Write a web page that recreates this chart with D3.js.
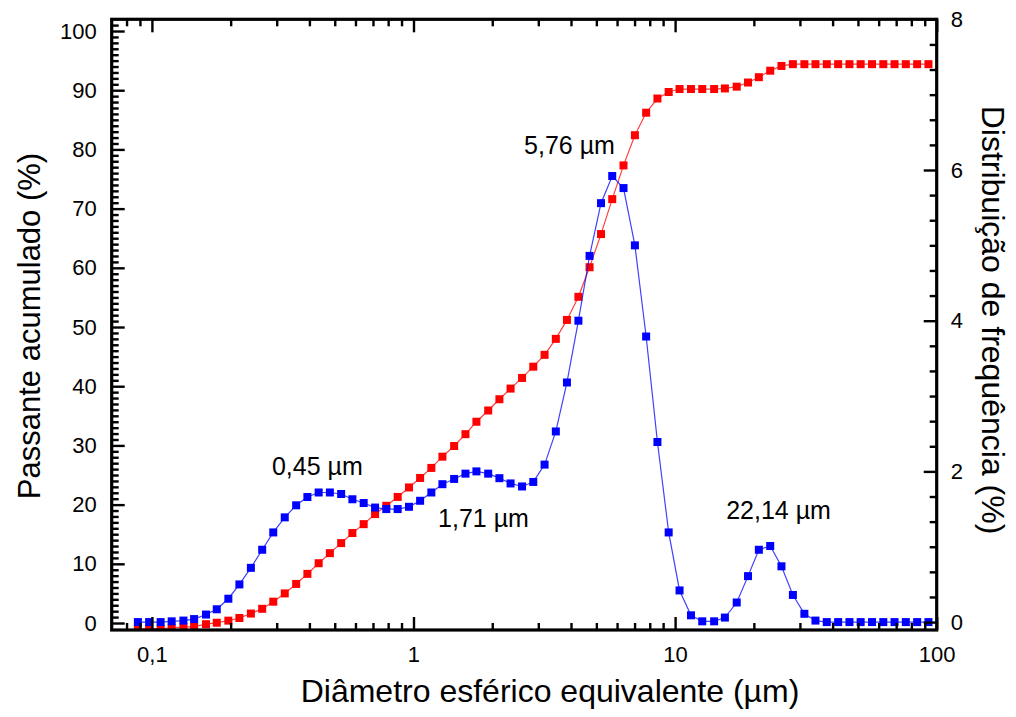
<!DOCTYPE html>
<html>
<head>
<meta charset="utf-8">
<script src="https://cdn.jsdelivr.net/npm/d3@7"></script>
<style>
  body { margin: 0; background: #fff; }
  svg { display: block; font-family: "Liberation Sans", Arial, sans-serif; }
</style>
</head>
<body>
<div id="chart"></div>
<script>
// Particle sizes (um), log spaced bins
const diameters = [
  0.0884, 0.0976, 0.108, 0.119, 0.132, 0.145, 0.161, 0.177, 0.196, 0.216,
  0.239, 0.264, 0.291, 0.322, 0.356, 0.393, 0.434, 0.479, 0.529, 0.584,
  0.645, 0.713, 0.787, 0.870, 0.961, 1.06, 1.17, 1.29, 1.43, 1.58,
  1.74, 1.93, 2.13, 2.35, 2.60, 2.87, 3.17, 3.50, 3.86, 4.27,
  4.71, 5.21, 5.75, 6.35, 7.02, 7.75, 8.56, 9.45, 10.4, 11.5,
  12.7, 14.1, 15.5, 17.2, 19.0, 20.9, 23.1, 25.5, 28.2, 31.2,
  34.4, 38.0, 42.0, 46.4, 51.2, 56.6, 62.5, 69.0, 76.2, 84.2, 93.0
];

// Passante acumulado (%) - left axis, red
const passante = [
  -1.0, -1.0, -1.0, -0.8, -0.7, -0.6, -0.2, 0.05, 0.4, 0.85,
  1.6, 2.4, 3.6, 5.0, 6.6, 8.3, 10.1, 11.8, 13.5, 15.2,
  16.7, 18.4, 19.8, 21.3, 22.9, 24.5, 26.2, 28.1, 29.9, 31.9,
  34.0, 35.9, 37.8, 39.6, 41.4, 43.3, 45.3, 48.0, 51.2, 55.1,
  60.1, 65.7, 71.6, 77.3, 82.4, 86.2, 88.6, 89.7, 90.2, 90.2,
  90.2, 90.2, 90.3, 90.6, 91.3, 92.2, 93.3, 94.1, 94.4, 94.4,
  94.4, 94.4, 94.4, 94.4, 94.4, 94.4, 94.4, 94.4, 94.4, 94.4, 94.4
];

// Distribuicao de frequencia (%) - right axis, blue
const frequencia = [
  0, 0, 0, 0.01, 0.02, 0.04, 0.10, 0.17, 0.31, 0.50,
  0.72, 0.96, 1.19, 1.39, 1.55, 1.66, 1.72, 1.72, 1.70, 1.63,
  1.58, 1.52, 1.50, 1.50, 1.53, 1.61, 1.72, 1.83, 1.90, 1.97,
  2.00, 1.97, 1.91, 1.84, 1.80, 1.86, 2.09, 2.53, 3.18, 4.00,
  4.86, 5.56, 5.92, 5.76, 5.00, 3.79, 2.39, 1.19, 0.42, 0.09,
  0.01, 0.01, 0.06, 0.26, 0.61, 0.96, 1.01, 0.74, 0.36, 0.11,
  0.02, 0, 0, 0, 0, 0, 0, 0, 0, 0, 0
];

// Tick values and labels
const xTickValues = [0.1, 1, 10, 100];
const xTickLabels = ["0,1", "1", "10", "100"];
const leftTickValues = [0, 10, 20, 30, 40, 50, 60, 70, 80, 90, 100];
const rightTickValues = [0, 2, 4, 6, 8];

// Peak annotations (x in um, y in frequency %)
const peakLabels = ["0,45 \u00b5m", "1,71 \u00b5m", "5,76 \u00b5m", "22,14 \u00b5m"];
const peakX = [0.429, 1.852, 3.948, 24.86];
const peakY = [1.95, 1.26, 6.21, 1.364];

const W = 1016, H = 717;
const plot = { left: 111.7, right: 936.7, top: 19.3, bottom: 630 };

const svg = d3.select("#chart")
    .append("svg")
    .attr("width", W)
    .attr("height", H);

// Scales
const x = d3.scaleLog()
    .domain([0.0702, 100])
    .range([plot.left, plot.right]);

const yLeft = d3.scaleLinear()
    .domain([-1.18, 101.98])
    .range([plot.bottom, plot.top]);

const yRight = d3.scaleLinear()
    .domain([-0.105, 8])
    .range([plot.bottom, plot.top]);

svg.append("clipPath")
    .attr("id", "plot-clip")
    .append("rect")
    .attr("x", plot.left)
    .attr("y", plot.top)
    .attr("width", plot.right - plot.left)
    .attr("height", plot.bottom - plot.top);

const data = diameters.map((d, i) => ({ d: d, pass: passante[i], freq: frequencia[i] }));

const plotArea = svg.append("g").attr("clip-path", "url(#plot-clip)");

// Red series (cumulative)
plotArea.append("path")
    .datum(data)
    .attr("fill", "none")
    .attr("stroke", "#ff0000")
    .attr("stroke-opacity", 0.75)
    .attr("stroke-width", 1.2)
    .attr("d", d3.line().x(d => x(d.d)).y(d => yLeft(d.pass)));

const ms = 8;
plotArea.selectAll(".red-pt")
    .data(data)
    .enter().append("rect")
    .attr("class", "red-pt")
    .attr("x", d => x(d.d) - ms / 2)
    .attr("y", d => yLeft(d.pass) - ms / 2)
    .attr("width", ms)
    .attr("height", ms)
    .attr("fill", "#ff0000");

// Blue series (frequency)
plotArea.append("path")
    .datum(data)
    .attr("fill", "none")
    .attr("stroke", "#0000ff")
    .attr("stroke-opacity", 0.75)
    .attr("stroke-width", 1.2)
    .attr("d", d3.line().x(d => x(d.d)).y(d => yRight(d.freq)));

plotArea.selectAll(".blue-pt")
    .data(data)
    .enter().append("rect")
    .attr("class", "blue-pt")
    .attr("x", d => x(d.d) - ms / 2)
    .attr("y", d => yRight(d.freq) - ms / 2)
    .attr("width", ms)
    .attr("height", ms)
    .attr("fill", "#0000ff");

// Axes - major ticks with labels, minor ticks without
const majorLen = 13, minorLen = 7;
const xMinor = x.ticks().filter(v => !xTickValues.some(t => Math.abs(t - v) < 1e-9));
const leftMinor = d3.range(0, 102, 1).filter(v => v % 10 !== 0);
const rightMinor = d3.range(0, 25).map(k => k / 3).filter(v => Math.abs(v - Math.round(v / 2) * 2) > 1e-6);

function styleAxis(g, fontSize) {
  g.select(".domain").remove();
  g.selectAll(".tick line").attr("stroke", "#000").attr("stroke-width", 2.4);
  g.selectAll(".tick text").attr("fill", "#000").style("font-size", fontSize + "px");
}

// bottom
svg.append("g")
    .attr("transform", `translate(0,${plot.bottom})`)
    .call(d3.axisBottom(x).tickValues(xTickValues)
        .tickFormat((d, i) => xTickLabels[i])
        .tickSize(-majorLen).tickPadding(16))
    .call(g => styleAxis(g, 22));

svg.append("g")
    .attr("transform", `translate(0,${plot.bottom})`)
    .call(d3.axisBottom(x).tickValues(xMinor).tickFormat("").tickSize(-minorLen))
    .call(g => styleAxis(g, 22));

// top (mirror, no labels)
svg.append("g")
    .attr("transform", `translate(0,${plot.top})`)
    .call(d3.axisTop(x).tickValues(xTickValues).tickFormat("").tickSize(-majorLen))
    .call(g => styleAxis(g, 22));

svg.append("g")
    .attr("transform", `translate(0,${plot.top})`)
    .call(d3.axisTop(x).tickValues(xMinor).tickFormat("").tickSize(-minorLen))
    .call(g => styleAxis(g, 22));

// left
svg.append("g")
    .attr("transform", `translate(${plot.left},0)`)
    .call(d3.axisLeft(yLeft).tickValues(leftTickValues).tickSize(-majorLen).tickPadding(15))
    .call(g => styleAxis(g, 22));

svg.append("g")
    .attr("transform", `translate(${plot.left},0)`)
    .call(d3.axisLeft(yLeft).tickValues(leftMinor).tickFormat("").tickSize(-minorLen))
    .call(g => styleAxis(g, 22));

// right
svg.append("g")
    .attr("transform", `translate(${plot.right},0)`)
    .call(d3.axisRight(yRight).tickValues(rightTickValues).tickSize(-majorLen).tickPadding(14))
    .call(g => styleAxis(g, 22));

svg.append("g")
    .attr("transform", `translate(${plot.right},0)`)
    .call(d3.axisRight(yRight).tickValues(rightMinor).tickFormat("").tickSize(-minorLen))
    .call(g => styleAxis(g, 22));

// Frame
svg.append("rect")
    .attr("x", plot.left)
    .attr("y", plot.top)
    .attr("width", plot.right - plot.left)
    .attr("height", plot.bottom - plot.top)
    .attr("fill", "none")
    .attr("stroke", "#000")
    .attr("stroke-width", 3.2);

// Peak labels
svg.selectAll(".peak")
    .data(peakLabels)
    .enter().append("text")
    .attr("class", "peak")
    .attr("x", (d, i) => x(peakX[i]))
    .attr("y", (d, i) => yRight(peakY[i]))
    .attr("text-anchor", "middle")
    .style("font-size", "25px")
    .attr("fill", "#000")
    .text(d => d);

// Axis titles
svg.append("text")
    .attr("x", 550)
    .attr("y", 702)
    .attr("text-anchor", "middle")
    .style("font-size", "32px")
    .text("Di\u00e2metro esf\u00e9rico equivalente (\u00b5m)");

svg.append("text")
    .attr("transform", "translate(40,326) rotate(-90)")
    .attr("text-anchor", "middle")
    .style("font-size", "31px")
    .text("Passante acumulado (%)");

svg.append("text")
    .attr("transform", "translate(982,320) rotate(90)")
    .attr("text-anchor", "middle")
    .style("font-size", "32px")
    .text("Distribui\u00e7\u00e3o de frequ\u00eancia (%)");
</script>
</body>
</html>
